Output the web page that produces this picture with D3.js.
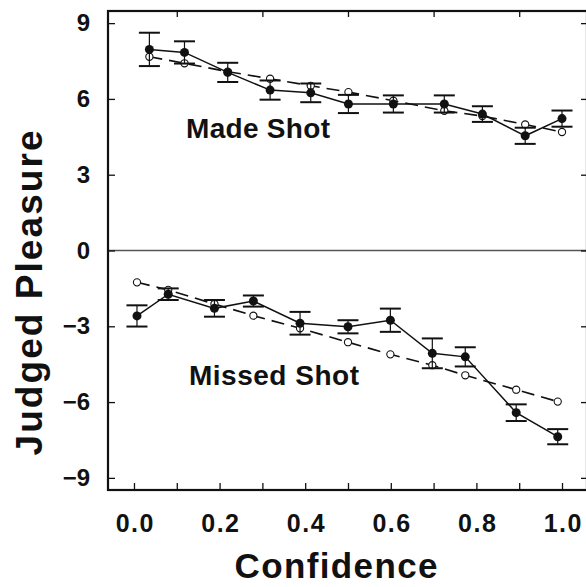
<!DOCTYPE html>
<html>
<head>
<meta charset="utf-8">
<script src="https://cdn.jsdelivr.net/npm/d3@7"></script>
<style>
  body { margin: 0; background: #fff; }
  svg { display: block; }
  text { font-family: "Liberation Sans", Arial, Helvetica, sans-serif; font-weight: bold; fill: #111; }
</style>
</head>
<body>
<div id="chart"></div>
<script>
// Judged pleasure vs confidence, made and missed shots
// filled dots = observed (with error bars), open dots = predicted

// Made shot
let madeX    = [0.036, 0.118, 0.219, 0.318, 0.413, 0.501, 0.606, 0.725, 0.814, 0.914, 1.000];
let madeObs  = [7.96, 7.84, 7.05, 6.35, 6.24, 5.80, 5.80, 5.80, 5.40, 4.54, 5.22];
let madeErr  = [0.66, 0.44, 0.38, 0.38, 0.37, 0.36, 0.34, 0.34, 0.31, 0.32, 0.32];
let madePred = [7.67, 7.41, 7.08, 6.80, 6.52, 6.27, 5.93, 5.53, 5.32, 4.99, 4.69];

// Missed shot
let missX    = [0.007, 0.080, 0.188, 0.279, 0.388, 0.500, 0.599, 0.697, 0.774, 0.893, 0.990];
let missObs  = [-2.59, -1.73, -2.29, -2.00, -2.88, -3.02, -2.76, -4.07, -4.21, -6.42, -7.37];
let missErr  = [0.42, 0.23, 0.33, 0.22, 0.45, 0.26, 0.46, 0.59, 0.38, 0.33, 0.30];
let missPred = [-1.26, -1.56, -2.12, -2.58, -3.08, -3.63, -4.11, -4.54, -4.94, -5.51, -5.98];

// Ticks
let xTicks = [0, 0.1, 0.2, 0.3, 0.4, 0.5, 0.6, 0.7, 0.8, 0.9, 1.0];
let xTopTicks = [0.1, 0.3, 0.5, 0.7, 0.9];
let yTicks = [-9, -6, -3, 0, 3, 6, 9];

// Chart size
let margin = {top: 11, right: -1, bottom: 97, left: 108},
    width = 586 - margin.left - margin.right,
    height = 587 - margin.top - margin.bottom;

let x = d3.scaleLinear().domain([-0.0607, 1.0584]).range([0, width]);
let y = d3.scaleLinear().domain([-9.48, 9.48]).range([height, 0]);

let svg = d3.select("#chart").append("svg")
    .attr("width", 586)
    .attr("height", 587);

let g = svg.append("g")
    .attr("transform", `translate(${margin.left}, ${margin.top})`);

// Zero line
g.append("line")
    .attr("x1", 0).attr("x2", width)
    .attr("y1", y(0)).attr("y2", y(0))
    .attr("stroke", "#555").attr("stroke-width", 1.4);

// Axes (ticks point inward)
let xaxis = g.append("g")
    .attr("transform", `translate(0, ${height})`)
    .call(d3.axisBottom(x).tickValues(xTicks).tickSize(-7).tickPadding(24)
        .tickFormat((d, i) => i % 2 === 0 ? d3.format(".1f")(d) : ""));
xaxis.selectAll("text")
    .attr("font-size", 25).attr("letter-spacing", 1.5).attr("dx", 0.8);

g.append("g")
    .call(d3.axisTop(x).tickValues(xTopTicks).tickSize(-6).tickFormat(""));

let yaxis = g.append("g")
    .call(d3.axisLeft(y).tickValues(yTicks).tickSize(-7).tickPadding(18)
        .tickFormat(d => d < 0 ? "\u2212" + Math.abs(d) : d));
yaxis.selectAll("text").attr("font-size", 24);

g.append("g")
    .attr("transform", `translate(${width}, 0)`)
    .call(d3.axisRight(y).tickValues(yTicks).tickSize(-6).tickFormat(""));

g.selectAll(".domain").remove();
g.selectAll(".tick line").attr("stroke", "#111").attr("stroke-width", 1.3);
g.selectAll(".tick text").attr("fill", "#111").attr("font-family", null);

// Frame
g.append("rect")
    .attr("width", width).attr("height", height)
    .attr("fill", "none").attr("stroke", "#111").attr("stroke-width", 2.2);

let line = d3.line()
    .x(d => x(d[0]))
    .y(d => y(d[1]));

function drawSeries(xs, obs, err, pred) {
    let predPts = xs.map((v, i) => [v, pred[i]]);
    let obsPts = xs.map((v, i) => [v, obs[i]]);

    // predicted, dashed with open circles (behind)
    g.append("path")
        .datum(predPts)
        .attr("fill", "none")
        .attr("stroke", "#111")
        .attr("stroke-width", 1.6)
        .attr("stroke-dasharray", "13,7")
        .attr("d", line);
    g.append("g").selectAll("circle")
        .data(predPts).join("circle")
        .attr("cx", d => x(d[0])).attr("cy", d => y(d[1]))
        .attr("r", 3.6)
        .attr("fill", "#fff").attr("stroke", "#111").attr("stroke-width", 1.1);

    // observed, solid
    g.append("path")
        .datum(obsPts)
        .attr("fill", "none")
        .attr("stroke", "#111")
        .attr("stroke-width", 1.5)
        .attr("d", line);

    let eb = g.append("g").selectAll("g")
        .data(xs.map((v, i) => ({x: v, y: obs[i], e: err[i]})))
        .join("g");
    eb.append("line")
        .attr("x1", d => x(d.x)).attr("x2", d => x(d.x))
        .attr("y1", d => y(d.y + d.e)).attr("y2", d => y(d.y - d.e))
        .attr("stroke", "#111").attr("stroke-width", 1.2);
    eb.selectAll(".cap")
        .data(d => [d.y + d.e, d.y - d.e].map(v => ({x: d.x, v: v})))
        .join("line").attr("class", "cap")
        .attr("x1", d => x(d.x) - 10.5).attr("x2", d => x(d.x) + 10.5)
        .attr("y1", d => y(d.v)).attr("y2", d => y(d.v))
        .attr("stroke", "#111").attr("stroke-width", 2);
    eb.append("circle")
        .attr("cx", d => x(d.x)).attr("cy", d => y(d.y))
        .attr("r", 4.5)
        .attr("fill", "#111");
}

drawSeries(madeX, madeObs, madeErr, madePred);
drawSeries(missX, missObs, missErr, missPred);

// Panel labels
g.append("text")
    .attr("x", 78).attr("y", 127)
    .attr("font-size", 28)
    .attr("textLength", 144)
    .text("Made Shot");

g.append("text")
    .attr("x", 81).attr("y", 374)
    .attr("font-size", 28)
    .attr("textLength", 170)
    .text("Missed Shot");

// Axis titles
svg.append("text")
    .attr("transform", "translate(42, 293) rotate(-90)")
    .attr("text-anchor", "middle")
    .attr("font-size", 37)
    .attr("textLength", 325)
    .text("Judged Pleasure");

svg.append("text")
    .attr("x", 336).attr("y", 578)
    .attr("text-anchor", "middle")
    .attr("font-size", 35)
    .attr("textLength", 203)
    .text("Confidence");
</script>
</body>
</html>
